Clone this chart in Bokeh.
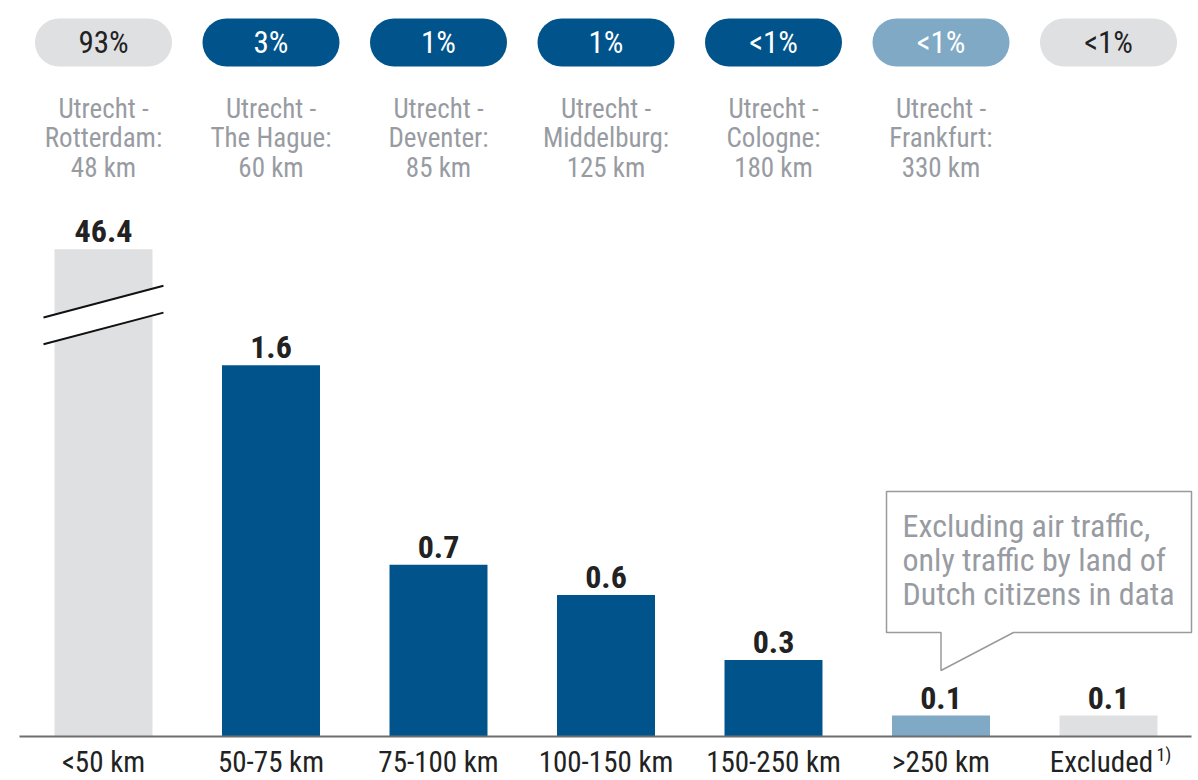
from bokeh.plotting import figure
from bokeh.models import ColumnDataSource, Range1d
from bokeh.core.properties import value
from bokeh.embed import file_html
from bokeh.resources import INLINE

# ---- data ----
categories = ["<50 km", "50-75 km", "75-100 km", "100-150 km", "150-250 km", ">250 km", "Excluded"]
footnotes = ["", "", "", "", "", "", "1)"]
values = [46.4, 1.6, 0.74, 0.61, 0.33, 0.09, 0.09]
shares = ["93%", "3%", "1%", "1%", "<1%", "<1%", "<1%"]
examples = [
    "Utrecht -\nRotterdam:\n48 km",
    "Utrecht -\nThe Hague:\n60 km",
    "Utrecht -\nDeventer:\n85 km",
    "Utrecht -\nMiddelburg:\n125 km",
    "Utrecht -\nCologne:\n180 km",
    "Utrecht -\nFrankfurt:\n330 km",
    "",
]
groups = ["other", "main", "main", "main", "main", "far", "other"]
callout_lines = ["Excluding air traffic,", "only traffic by land of", "Dutch citizens in data"]
callout_bar = 5
axis_cap = 2.1  # bars above this value are drawn broken

# ---- style ----
FONT = "'Roboto Condensed', 'DejaVu Sans Condensed', 'Liberation Sans Narrow', Roboto"
DARK = "#00548b"
LIGHT = "#7fa9c5"
GRAY = "#dfe0e2"
TXT = "#222222"
SUB = "#989ca2"
fill_map = {"other": GRAY, "main": DARK, "far": LIGHT}
pill_text_map = {"other": TXT, "main": "#ffffff", "far": "#ffffff"}

W, H = 1198, 780
UX = 167.5       # px per category
X0 = 103.0       # px of first category
S = 232.0        # px per unit
BASE = 44.0      # baseline px above bottom
x_lo = -X0 / UX
x_hi = x_lo + W / UX
y_lo = -BASE / S
y_hi = y_lo + H / S


def ximg(X):
    return x_lo + X / UX


def yimg(Y):
    return y_lo + (H - Y) / S


p = figure(width=W, height=H, output_backend="svg", toolbar_location=None,
           x_range=Range1d(x_lo, x_hi), y_range=Range1d(y_lo, y_hi),
           min_border=0, outline_line_color=None)
p.axis.visible = False
p.grid.visible = False
p.background_fill_color = "white"

n = len(categories)
xs = list(range(n))
tops = [min(v, axis_cap) for v in values]
src = ColumnDataSource(dict(
    x=xs, top=tops, val=values, lab=[f"{v:.1f}" for v in values],
    fill=[fill_map[g] for g in groups], cat=categories,
    share=shares, ptxt=[pill_text_map[g] for g in groups],
    ex=examples, xoff=[-7 if f else 0 for f in footnotes],
    py=[yimg(42)] * n, ey=[yimg(138)] * n, ly=[yimg(761)] * n,
))

# bars
p.vbar(x="x", top="top", bottom=0, width=0.585, fill_color="fill", line_color=None, source=src)

# baseline
p.segment(x0=[ximg(19)], y0=[0], x1=[ximg(1191)], y1=[0], line_color="#6e6e6e", line_width=2)

# break symbol on capped bars
for i, v in enumerate(values):
    if v > axis_cap:
        hw = 0.358
        y_top_l, y_top_r = axis_cap * 0.86, axis_cap * 0.925
        gap = axis_cap * 0.055
        p.patch([i - hw, i + hw, i + hw, i - hw],
                [y_top_l, y_top_r, y_top_r - gap, y_top_l - gap],
                fill_color="white", line_color=None)
        p.line([i - hw, i + hw], [y_top_l, y_top_r], line_color="#111111", line_width=2)
        p.line([i - hw, i + hw], [y_top_l - gap, y_top_r - gap], line_color="#111111", line_width=2)

# value labels
p.text(x="x", y="top", text="lab", source=src, text_align="center", text_baseline="bottom",
       y_offset=-7, text_font=value(FONT), text_font_style="bold", text_font_size="32px",
       text_color=TXT)

# pills with shares
p.rect(x="x", y="py", width=137, height=48, width_units="screen", height_units="screen",
       fill_color="fill", line_color=None, border_radius=24, source=src)
p.text(x="x", y="py", text="share", source=src, text_align="center", text_baseline="middle",
       text_font=value(FONT), text_font_size="31px", text_color="ptxt")

# example routes
p.text(x="x", y="ey", text="ex", source=src, text_align="center", text_baseline="middle",
       text_font=value(FONT), text_font_size="27px", text_color=SUB, text_line_height=0.91)

# category labels
p.text(x="x", y="ly", text="cat", source=src, text_align="center", text_baseline="middle",
       x_offset="xoff", text_font=value(FONT),
       text_font_size="29px", text_color=TXT)
for i, f in enumerate(footnotes):
    if f:
        p.text(x=[i], y=[yimg(754)], text=[f], text_align="left", text_baseline="middle",
               x_offset=48, text_font=value(FONT), text_font_size="18px", text_color=TXT)

# callout box
cx = callout_bar
bx0, bx1 = ximg(886), ximg(1191)
by0, by1 = yimg(632), yimg(491)
tip_y = yimg(670)
p.patch([bx0, bx1, bx1, ximg(1013), cx, cx, bx0],
        [by1, by1, by0, by0, tip_y, by0, by0],
        fill_color="white", line_color="#9a9a9a", line_width=1.5)
for k, line in enumerate(callout_lines):
    p.text(x=[ximg(902)], y=[yimg(525 + 34 * k)], text=[line], text_align="left",
           text_baseline="middle", text_font=value(FONT), text_font_size="32px", text_color=SUB)

open("out.html", "w").write(file_html(p, INLINE))
